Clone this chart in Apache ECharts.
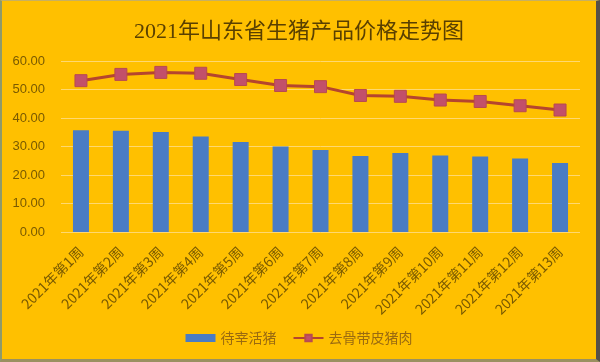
<!DOCTYPE html>
<html>
<head>
<meta charset="utf-8">
<script src="https://cdn.jsdelivr.net/npm/echarts@6/dist/echarts.min.js"></script>
<style>
html,body{margin:0;padding:0;background:#FFC000;}
#c{width:600px;height:362px;box-sizing:border-box;border-left:2px solid #8f9a6a;border-right:4px solid #555048;border-bottom:3px solid #9a9060;border-top:1px solid #c8b060;}
</style>
</head>
<body>
<div id="c"></div>
<script>
var categories = ['2021年第1周','2021年第2周','2021年第3周','2021年第4周','2021年第5周','2021年第6周','2021年第7周','2021年第8周','2021年第9周','2021年第10周','2021年第11周','2021年第12周','2021年第13周'];
var livePig = [35.7, 35.5, 35.1, 33.5, 31.6, 30.0, 28.8, 26.7, 27.7, 26.8, 26.5, 25.8, 24.2];
var boneless = [53.1, 55.3, 56.0, 55.7, 53.5, 51.4, 51.0, 47.9, 47.6, 46.3, 45.8, 44.3, 42.8];
var seriesNames = ['待宰活猪', '去骨带皮猪肉'];

var chart = echarts.init(document.getElementById('c'));
chart.setOption({
  backgroundColor: '#FFC000',
  animation: false,
  title: {
    text: '2021年山东省生猪产品价格走势图',
    left: 'center',
    top: 15,
    textStyle: {fontFamily: '"Liberation Serif","Noto Sans CJK SC"', fontSize: 22, fontWeight: 'normal', color: '#5a4000'}
  },
  legend: {
    bottom: 9,
    left: 'center',
    itemGap: 16,
    itemWidth: 30,
    itemHeight: 8,
    textStyle: {fontFamily: '"Noto Sans CJK SC"', fontSize: 14, color: '#9a6a10'},
    data: [
      {name: seriesNames[0], icon: 'rect'},
      {name: seriesNames[1]}
    ]
  },
  grid: {left: 59, right: 16, top: 60, bottom: 127},
  xAxis: {
    type: 'category',
    data: categories,
    axisLine: {show: false},
    axisTick: {show: false},
    axisLabel: {rotate: 45, interval: 0, margin: 17, fontSize: 14, color: '#7a5a00', fontFamily: '"Noto Sans CJK SC"'}
  },
  yAxis: {
    type: 'value',
    min: 0, max: 60, interval: 10,
    axisLine: {show: false},
    axisTick: {show: false},
    splitLine: {lineStyle: {color: '#FFD870', width: 1}},
    axisLabel: {formatter: function(v){return v.toFixed(2);}, fontSize: 13, margin: 16, color: '#7a5a00', fontFamily: '"Liberation Sans"'}
  },
  series: [
    {
      name: seriesNames[0], type: 'bar', data: livePig, barWidth: 16,
      itemStyle: {color: '#4a7cc4'}
    },
    {
      name: seriesNames[1], type: 'line', data: boneless,
      symbol: 'rect', symbolSize: 12,
      lineStyle: {color: '#b5452e', width: 3},
      itemStyle: {color: '#c2506a', borderColor: '#b84a50', borderWidth: 1}
    }
  ]
});
</script>
</body>
</html>
